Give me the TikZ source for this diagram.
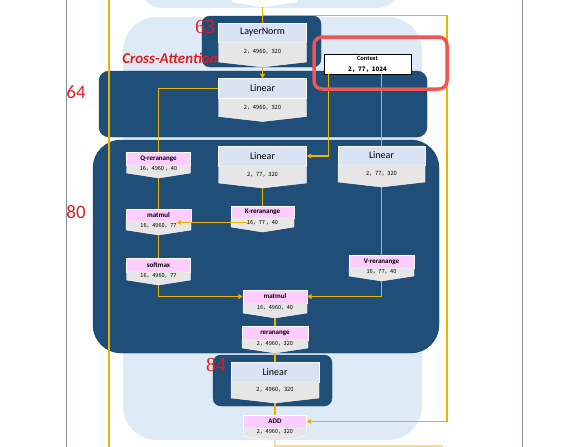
\documentclass[tikz,border=0pt]{standalone}
\usepackage{fontspec}
\setmainfont{Carlito}
\newfontfamily\dimfont{Noto Sans CJK SC}
\newfontfamily\numfont{Liberation Serif}
\usetikzlibrary{arrows.meta,calc}

\definecolor{navy}{RGB}{31,78,121}
\definecolor{paleblue}{RGB}{222,234,246}
\definecolor{hdrblue}{RGB}{218,227,243}
\definecolor{bodygray}{RGB}{231,230,230}
\definecolor{pinkhdr}{RGB}{255,204,255}
\definecolor{gold}{RGB}{236,178,0}
\definecolor{numred}{RGB}{225,30,30}
\definecolor{hlred}{RGB}{240,84,84}
\definecolor{framegray}{RGB}{130,142,162}

% op block: name, centre x, width, top y, header h, body h, header style, header, dims
\newcommand{\opblock}[9]{%
  \node[#7,minimum width=#3,minimum height=#5] (#1) at ({#2},{#4+#5/2}) {#8};
  \filldraw[fill=bodygray,draw=white] ({#2-#3/2},{#4+#5}) -- ++(#3,0) -- ++(0,#6)
    -- ({#2},{#4+#5+#6+5}) -- ({#2-#3/2},{#4+#5+#6}) -- cycle;
  \node[#7 dims] (#1-b) at ({#2},{#4+#5+#6/2}) {#9};
  \coordinate (#1-t) at ({#2},{#4+#5+#6+5});
}

\begin{document}
\begin{tikzpicture}[
  x=1pt,y=-1pt,
  lhdr/.style={draw=white,fill=hdrblue,inner sep=1pt,font=\fontsize{10}{11}\selectfont},
  phdr/.style={draw=white,fill=pinkhdr,inner sep=1pt,font=\bfseries\fontsize{7}{8}\selectfont},
  lhdr dims/.style={inner sep=0pt,font=\dimfont\fontsize{5.8}{6.5}\selectfont},
  phdr dims/.style={inner sep=0pt,font=\dimfont\fontsize{5.6}{6.5}\selectfont},
  panel/.style={fill=navy,draw=navy!80!black},
  wire/.style={draw=gold,line width=1.5pt},
  arr/.style={wire,-{Triangle[width=5pt,length=4.5pt]}},
  num/.style={text=numred,font=\fontsize{19}{20}\selectfont},
  numserif/.style={text=numred,font=\numfont\fontsize{20}{21}\selectfont}
]
\useasboundingbox (0,0) rectangle (573,447);

% page frame and background shapes
\draw[framegray,line width=0.8pt] (66,0) -- (66,447);
\draw[framegray,line width=0.8pt] (522,0) -- (522,447);
\fill[paleblue,rounded corners=22pt] (140,-40) rectangle (400,8);
\fill[paleblue,rounded corners=34pt] (123,17) rectangle (422,440);

% dark panels
\filldraw[panel,rounded corners=8pt] (202,16) rectangle (321,67);
\filldraw[panel,rounded corners=10pt] (99,71) rectangle (427,137);
\filldraw[panel,rounded corners=28pt] (93,140) rectangle (439,353);
\filldraw[panel,rounded corners=8pt] (213,355) rectangle (332,406);

% previous block (cut off at the top)
\filldraw[fill=white,draw=white] (232,-5) -- (297,-5) -- (297,2) -- (262.5,7) -- (232,2) -- cycle;
\coordinate (prev-t) at (262.5,7);

% blocks
\opblock{ln}{262.5}{88}{23}{19}{20}{lhdr}{LayerNorm}{2，4960，320}
\opblock{lin64}{262.5}{88}{78.5}{20}{18}{lhdr}{Linear}{2，4960，320}
\opblock{link}{262.5}{88}{146}{20}{17}{lhdr}{Linear}{2，77，320}
\opblock{linv}{381.5}{87}{146}{19}{17}{lhdr}{Linear}{2，77，320}
\opblock{qre}{158.5}{64}{152}{13}{8}{phdr}{Q-reranange}{16，4960 ，40}
\opblock{kre}{262.5}{63}{206}{12}{9}{phdr}{K-reranange}{16，77 ，40}
\opblock{mma}{158.5}{65}{209}{12}{9}{phdr}{matmul}{16，4960，77}
\opblock{smax}{158.5}{64}{258}{14}{8}{phdr}{softmax}{16，4960，77}
\opblock{vre}{381.5}{65}{255}{13}{8}{phdr}{V-reranange}{16，77，40}
\opblock{mmb}{275}{64}{290}{13}{10}{phdr}{matmul}{16，4960，40}
\opblock{rer}{275}{66}{326}{14}{8}{phdr}{reranange}{2，4960，320}
\opblock{lin84}{275}{88}{362}{20}{16}{lhdr}{Linear}{2，4960，320}
\opblock{add}{275}{63}{415}{13}{8}{phdr}{ADD}{2，4960，320}

% context input
\node[draw=black,fill=white,line width=0.6pt,minimum width=87,minimum height=20,
      inner sep=1pt,align=center] (ctx) at (367.5,64)
  {{\bfseries\fontsize{6.5}{8}\selectfont Context}\\[-1pt]{\dimfont\bfseries\fontsize{6.2}{7}\selectfont 2，77，1024}};

% connectors
\coordinate (skip-top) at (109,0);
\coordinate (skip-bot) at (109,447);
\coordinate (res-r) at (447,15.5);
\coordinate (next-r) at (443,446);
\draw[wire] (skip-top) -- (skip-bot);
\draw[wire] (prev-t) -- (ln.north);
\draw[arr] (res-r -| prev-t) -- (res-r) |- (add.east);
\draw[arr] (ln-t) -- (lin64.north);
\draw[wire] (lin64.west) -| (qre.north);
\draw[arr] ([xshift=4.8pt]ctx.south west) |- (link.east);
\draw[wire] (ctx.south -| linv.north) -- (linv.north);
\draw[wire] (qre-t) -- (mma.north);
\draw[wire] (link-t) -- (kre.north);
\draw[arr] (kre-b.west) -- (kre-b.west -| mma-b.east);
\draw[wire] (mma-t) -- (smax.north);
\draw[wire] (linv-t) -- (vre.north);
\draw[arr] (smax-t) |- (mmb.west);
\draw[arr] (vre-t) |- (mmb.east);
\draw[wire] (mmb-t) -- (rer.north);
\draw[wire] (rer-t) -- (lin84.north);
\draw[wire] (lin84-t) -- (add.north);
\draw[wire,draw=gold!45] (add-t) |- (next-r);

% labels
\node[numserif] (n63) at (205,27) {63};
\node[num] (n64) at (76,92) {64};
\node[num] (n80) at (76,212) {80};
\node[numserif] (n84) at (216,365) {84};
\node[text=numred,font=\bfseries\itshape\fontsize{15}{16}\selectfont] (title) at (170,58) {Cross-Attention};

% highlight round the context
\draw[hlred,line width=3.5pt,rounded corners=8pt] (314,37) rectangle (447,89);
\end{tikzpicture}
\end{document}
